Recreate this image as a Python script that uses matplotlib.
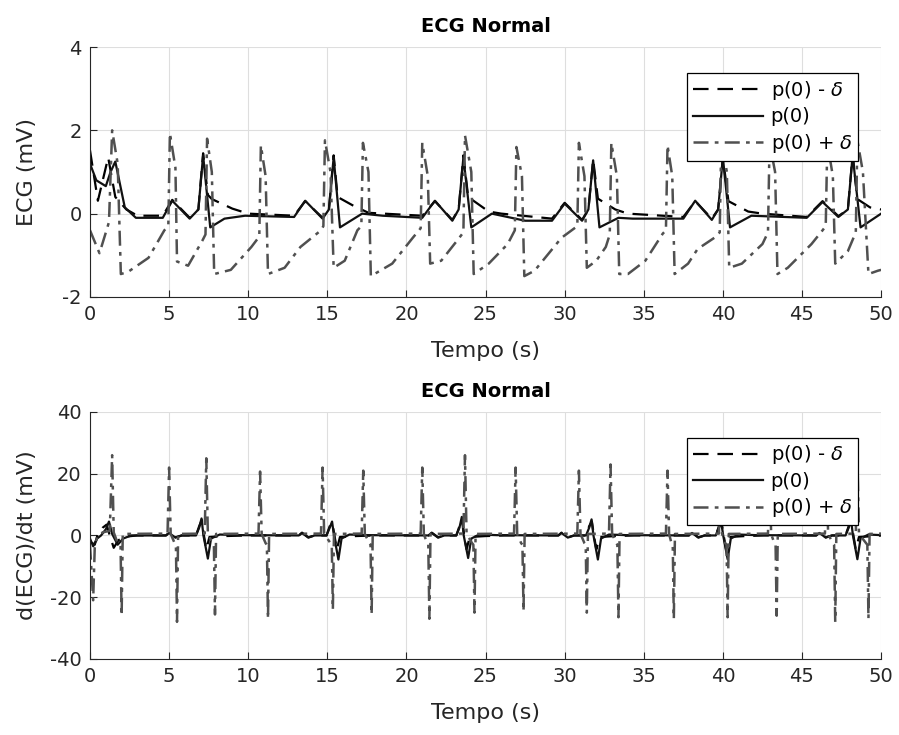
import matplotlib
matplotlib.use("Agg")
import matplotlib.pyplot as plt

plt.rcParams['font.family'] = ['DejaVu Sans']
plt.rcParams['axes.unicode_minus'] = False

# --- ECG (mV) : points (t, v) ---
ecg_minus = [(0.0, 1.52), (0.5, 0.31), (1.15, 1.35), (1.6, 0.4), (2.3, 0.1), (3.0, -0.05),
             (4.6, -0.05), (5.2, 0.33), (6.3, -0.1), (6.85, 0.1), (7.15, 1.45), (7.45, 0.45),
             (7.7, 0.35), (9.0, 0.12), (10.0, 0.0), (12.9, -0.05), (13.6, 0.3), (14.7, -0.1),
             (15.1, 0.1), (15.4, 1.4), (15.65, 0.4), (16.6, 0.2), (17.6, 0.02), (21.0, -0.05),
             (21.8, 0.3), (22.9, -0.15), (23.3, 0.1), (23.6, 1.4), (23.9, 0.4), (25.2, 0.05),
             (26.0, 0.0), (29.2, -0.12), (30.0, 0.26), (31.1, -0.15), (31.5, 0.1), (31.8, 1.3),
             (32.1, 0.36), (33.2, 0.1), (34.0, 0.0), (37.5, -0.08), (38.25, 0.3), (39.3, -0.12),
             (39.7, 0.1), (40.0, 1.35), (40.35, 0.3), (41.6, 0.05), (42.5, 0.0), (45.3, -0.08),
             (46.3, 0.3), (47.3, -0.06), (47.9, 0.1), (48.2, 1.42), (48.5, 0.35), (49.3, 0.15),
             (50.0, 0.1)]

ecg_mid = [(0.0, 1.2), (0.4, 0.8), (1.0, 0.66), (1.3, 1.0), (1.6, 1.25), (2.2, 0.15),
           (2.9, -0.1), (4.6, -0.1), (5.2, 0.31), (6.3, -0.12), (6.85, 0.1), (7.15, 1.4),
           (7.6, -0.33), (8.5, -0.12), (9.8, -0.05), (12.9, -0.08), (13.6, 0.31), (14.7, -0.12),
           (15.1, 0.1), (15.4, 1.35), (15.8, -0.33), (17.2, 0.0), (18.5, -0.05), (21.0, -0.1),
           (21.8, 0.31), (22.9, -0.17), (23.3, 0.1), (23.6, 1.35), (24.1, -0.33), (25.4, 0.0),
           (27.5, -0.17), (29.2, -0.17), (30.0, 0.24), (31.1, -0.17), (31.5, 0.1), (31.8, 1.28),
           (32.2, -0.33), (33.4, -0.1), (34.3, -0.12), (37.5, -0.12), (38.25, 0.31), (39.3, -0.15),
           (39.7, 0.1), (40.0, 1.35), (40.45, -0.33), (41.8, -0.05), (45.3, -0.1), (46.3, 0.28),
           (47.3, -0.08), (47.9, 0.1), (48.2, 1.4), (48.7, -0.33), (50.0, 0.0)]

ecg_plus = [(0.0, -0.4), (0.6, -0.95), (1.1, -0.33), (1.2, -0.2), (1.4, 2.0), (1.75, 1.2),
            (1.95, -1.45), (2.4, -1.4), (3.7, -1.06), (4.7, -0.4), (4.95, -0.3), (5.05, 1.93),
            (5.4, 1.1), (5.5, -1.15), (6.2, -1.25), (7.1, -0.65), (7.3, -0.5), (7.4, 1.8),
            (7.7, 1.0), (7.85, -1.45), (8.9, -1.35), (10.2, -0.8), (10.7, -0.55), (10.8, 1.64),
            (11.1, 0.9), (11.25, -1.45), (12.3, -1.3), (13.3, -0.8), (14.6, -0.4), (14.75, -0.3),
            (14.85, 1.76), (15.2, 1.0), (15.4, -1.3), (16.1, -1.13), (16.9, -0.4), (17.15, -0.3),
            (17.25, 1.7), (17.6, 1.0), (17.75, -1.5), (19.1, -1.2), (20.4, -0.58), (20.9, -0.35),
            (21.0, 1.7), (21.35, 0.9), (21.5, -1.2), (22.2, -1.13), (23.3, -0.6), (23.6, -0.45),
            (23.7, 1.88), (24.1, 1.0), (24.25, -1.45), (25.2, -1.2), (26.4, -0.73), (26.85, -0.4),
            (26.95, 1.6), (27.3, 0.9), (27.45, -1.5), (28.1, -1.37), (29.8, -0.58), (30.8, -0.3),
            (30.9, 1.7), (31.25, 0.9), (31.4, -1.3), (32.0, -1.13), (32.6, -0.8), (32.85, -0.5),
            (32.95, 1.7), (33.3, 0.9), (33.45, -1.45), (34.0, -1.45), (35.1, -1.13), (36.2, -0.48),
            (36.4, -0.4), (36.5, 1.64), (36.8, 0.9), (36.95, -1.45), (37.8, -1.2), (38.4, -0.85),
            (39.5, -0.57), (39.8, -0.45), (39.9, 1.8), (40.25, 1.0), (40.4, -1.3), (41.2, -1.2),
            (42.5, -0.73), (42.85, -0.45), (42.95, 1.7), (43.3, 1.0), (43.45, -1.45), (44.1, -1.3),
            (45.6, -0.73), (46.3, -0.4), (46.5, -0.3), (46.6, 1.7), (46.95, 0.9), (47.1, -1.2),
            (47.9, -0.9), (48.4, -0.45), (48.5, 1.76), (48.85, 1.0), (49.2, -1.45), (49.8, -1.37),
            (50.0, -1.35)]

# --- d(ECG)/dt (mV/s) ---
decg_minus = [(0.0, -2.0), (0.3, -3.0), (0.5, 0.5), (0.8, 2.5), (1.05, 3.5), (1.25, 0.0),
              (1.5, -4.0), (1.8, -1.5), (2.4, -0.3), (3.0, 0.0),
              (4.8, 0.0), (5.0, 0.9), (5.4, -0.6), (5.8, 0.0),
              (6.7, 0.0), (6.9, 3.0), (7.07, 5.0), (7.2, 0.0), (7.35, -4.5), (7.55, -0.5), (8.5, -0.2), (10.0, 0.0),
              (13.2, 0.0), (13.4, 0.9), (13.8, -0.6), (14.2, 0.0),
              (14.95, 0.0), (15.15, 3.0), (15.32, 4.0), (15.45, 0.0), (15.6, -4.5), (15.8, -0.5), (16.8, -0.2), (18.0, 0.0),
              (21.4, 0.0), (21.6, 0.9), (22.0, -0.6), (22.4, 0.0),
              (23.15, 0.0), (23.35, 3.0), (23.52, 5.5), (23.65, 0.0), (23.8, -4.5), (24.0, -0.5), (25.0, -0.2), (26.2, 0.0),
              (29.6, 0.0), (29.8, 0.9), (30.2, -0.6), (30.6, 0.0),
              (31.35, 0.0), (31.55, 3.0), (31.72, 4.5), (31.85, 0.0), (32.0, -4.5), (32.2, -0.5), (33.2, -0.2), (34.4, 0.0),
              (37.85, 0.0), (38.05, 0.9), (38.45, -0.6), (38.85, 0.0),
              (39.55, 0.0), (39.75, 3.0), (39.92, 4.0), (40.05, 0.0), (40.2, -4.5), (40.4, -0.5), (41.4, -0.2), (42.6, 0.0),
              (45.9, 0.0), (46.1, 0.9), (46.5, -0.6), (46.9, 0.0),
              (47.75, 0.0), (47.95, 3.0), (48.12, 4.5), (48.25, 0.0), (48.4, -4.5), (48.6, -0.5), (49.6, -0.2), (50.0, 0.0)]

decg_mid = [(0.0, -1.0), (0.2, -3.5), (0.45, -1.0), (0.7, 0.0), (1.0, 2.0), (1.2, 4.5), (1.4, 0.5),
            (1.75, -3.0), (2.1, -1.0), (2.6, 0.0),
            (4.8, 0.0), (5.0, 0.8), (5.4, -0.7), (5.8, 0.0),
            (6.7, 0.0), (6.9, 2.5), (7.05, 5.5), (7.17, 0.0), (7.45, -7.5), (7.65, -1.0), (8.2, 0.3), (9.5, 0.1),
            (13.2, 0.0), (13.4, 0.8), (13.8, -0.7), (14.2, 0.0),
            (14.95, 0.0), (15.15, 2.5), (15.3, 4.5), (15.42, 0.0), (15.7, -7.8), (15.9, -1.0), (16.4, 0.3), (17.5, 0.1),
            (21.4, 0.0), (21.6, 0.8), (22.0, -0.7), (22.4, 0.0),
            (23.15, 0.0), (23.35, 2.5), (23.5, 6.0), (23.62, 0.0), (23.9, -7.3), (24.1, -1.0), (24.6, 0.3), (25.7, 0.1),
            (29.6, 0.0), (29.8, 0.8), (30.2, -0.7), (30.6, 0.0),
            (31.35, 0.0), (31.55, 2.5), (31.7, 5.2), (31.82, 0.0), (32.1, -7.8), (32.3, -1.0), (32.8, 0.3), (33.9, 0.1),
            (37.85, 0.0), (38.05, 0.8), (38.45, -0.7), (38.85, 0.0),
            (39.55, 0.0), (39.75, 2.5), (39.9, 4.0), (40.02, 0.0), (40.3, -7.7), (40.5, -1.0), (41.0, 0.3), (42.1, 0.1),
            (45.9, 0.0), (46.1, 0.8), (46.5, -0.7), (46.9, 0.0),
            (47.75, 0.0), (47.95, 2.5), (48.1, 5.0), (48.22, 0.0), (48.5, -7.7), (48.7, -1.0), (49.2, 0.3), (50.0, 0.1)]

decg_plus = [(0.0, -3.0), (0.1, -12.0), (0.2, -21.0), (0.3, -4.0), (0.45, -0.5), (0.8, 1.0),
             (1.25, 1.5), (1.4, 26.0), (1.5, 1.0), (1.75, -2.5), (1.93, -3.0), (2.0, -26.0), (2.07, 0.5), (4.9, 0.6),
             (5.0, 22.0), (5.1, 0.5), (5.35, -2.5), (5.43, -3.0), (5.5, -28.0), (5.57, 0.5), (7.25, 0.6),
             (7.35, 25.0), (7.45, 0.5), (7.75, -2.5), (7.83, -3.0), (7.9, -25.6), (7.97, 0.5), (10.65, 0.6),
             (10.75, 20.7), (10.85, 0.5), (11.1, -2.5), (11.18, -3.0), (11.25, -27.0), (11.32, 0.5), (14.6, 0.6),
             (14.7, 22.0), (14.8, 0.5), (15.2, -2.5), (15.28, -3.0), (15.35, -24.0), (15.42, 0.5), (17.17, 0.6),
             (17.27, 21.0), (17.37, 0.5), (17.65, -2.5), (17.73, -3.0), (17.8, -25.6), (17.87, 0.5), (20.9, 0.6),
             (21.0, 22.0), (21.1, 0.5), (21.3, -2.5), (21.38, -3.0), (21.45, -27.0), (21.52, 0.5), (23.6, 0.6),
             (23.7, 26.0), (23.8, 0.5), (24.15, -2.5), (24.23, -3.0), (24.3, -25.0), (24.37, 0.5), (26.8, 0.6),
             (26.9, 22.0), (27.0, 0.5), (27.25, -2.5), (27.33, -3.0), (27.4, -24.6), (27.47, 0.5), (30.8, 0.6),
             (30.9, 21.0), (31.0, 0.5), (31.25, -2.5), (31.33, -3.0), (31.4, -25.0), (31.47, 0.5), (32.8, 0.6),
             (32.9, 23.0), (33.0, 0.5), (33.25, -2.5), (33.33, -3.0), (33.4, -26.5), (33.47, 0.5), (36.4, 0.6),
             (36.5, 21.0), (36.6, 0.5), (36.75, -2.5), (36.83, -3.0), (36.9, -27.0), (36.97, 0.5), (39.75, 0.6),
             (39.85, 24.0), (39.95, 0.5), (40.15, -2.5), (40.23, -3.0), (40.3, -26.5), (40.37, 0.5), (42.85, 0.6),
             (42.95, 22.0), (43.05, 0.5), (43.25, -2.5), (43.33, -3.0), (43.4, -26.0), (43.47, 0.5), (46.45, 0.6),
             (46.55, 22.0), (46.65, 0.5), (46.95, -2.5), (47.03, -3.0), (47.1, -28.0), (47.17, 0.5), (48.4, 0.6),
             (48.5, 25.5), (48.6, 0.5), (49.05, -2.5), (49.13, -3.0), (49.2, -27.0), (49.27, 0.5), (50.0, 0.6)]

labels = [r'p(0) - $\delta$', 'p(0)', r'p(0) + $\delta$']
x_ticks = list(range(0, 51, 5))
y_ticks_top = [-2, 0, 2, 4]
y_ticks_bot = [-40, -20, 0, 20, 40]

TXT = '#262626'


def draw(ax, minus, mid, plus, ylabel, yticks, ylim):
    t1, v1 = zip(*minus)
    t2, v2 = zip(*mid)
    t3, v3 = zip(*plus)
    ax.plot(t1, v1, color='black', lw=1.6, dashes=(7, 4), label=labels[0])
    ax.plot(t2, v2, color='#111111', lw=1.6, ls='-', label=labels[1])
    ax.plot(t3, v3, color='#505050', lw=1.8, dashes=(6, 2.5, 1.5, 2.5), label=labels[2])
    ax.set_xlim(0, 50)
    ax.set_ylim(*ylim)
    ax.set_xticks(x_ticks)
    ax.set_yticks(yticks)
    ax.grid(True, color='#dedede', lw=0.8)
    ax.set_axisbelow(True)
    for s in ('top', 'right'):
        ax.spines[s].set_visible(False)
    for s in ('left', 'bottom'):
        ax.spines[s].set_color(TXT)
        ax.spines[s].set_linewidth(0.8)
    ax.tick_params(direction='in', length=5, width=0.8, colors=TXT, labelsize=14, pad=6)
    ax.set_title('ECG Normal', fontsize=14, fontweight='bold', pad=11)
    ax.set_xlabel('Tempo (s)', fontsize=16, color=TXT, labelpad=12)
    ax.set_ylabel(ylabel, fontsize=16, color=TXT)
    ax.yaxis.set_label_coords(-0.067, 0.5)
    leg = ax.legend(loc='upper right', bbox_to_anchor=(0.971, 0.896), borderaxespad=0,
                    fontsize=14, handlelength=3.6, labelspacing=0.28, borderpad=0.3,
                    handletextpad=0.4, fancybox=False, framealpha=1, edgecolor='black')
    leg.get_frame().set_linewidth(0.9)


fig = plt.figure(figsize=(8.99, 7.35), dpi=100)
ax1 = fig.add_axes([0.1001, 0.596, 0.880, 0.340])
ax2 = fig.add_axes([0.1001, 0.1035, 0.880, 0.336])

draw(ax1, ecg_minus, ecg_mid, ecg_plus, 'ECG (mV)', y_ticks_top, (-2, 4))
draw(ax2, decg_minus, decg_mid, decg_plus, 'd(ECG)/dt (mV)', y_ticks_bot, (-40, 40))

fig.savefig('out.png', dpi=100)
